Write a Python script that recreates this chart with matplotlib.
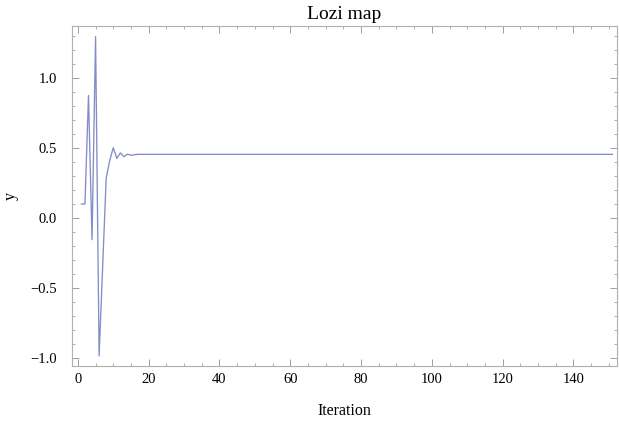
import matplotlib
matplotlib.use("Agg")
import matplotlib.pyplot as plt
from matplotlib.ticker import MultipleLocator, FuncFormatter

# Values
iters_early = [1, 2, 3, 4, 5, 6, 7, 8, 9, 10, 11, 12, 13, 14, 15, 16]
y_early = [0.10, 0.10, 0.875, -0.155, 1.295, -0.985, -0.35, 0.286, 0.41, 0.502,
           0.425, 0.465, 0.438, 0.456, 0.448, 0.452]
steady_value = 0.4545
last_iter = 151

iters = iters_early + list(range(iters_early[-1] + 1, last_iter + 1))
y = y_early + [steady_value] * (last_iter - iters_early[-1])

title = "Lozi map"
xlabel = "Iteration"
ylabel = "y"

plt.rcParams['font.family'] = ['Liberation Serif', 'DejaVu Serif']
plt.rcParams['mathtext.fontset'] = 'stix'

fig = plt.figure(figsize=(6.19, 4.26), dpi=100)
ax = fig.add_axes([71.5 / 619, 60 / 426, (617 - 71.5) / 619, 340 / 426])

ax.plot(iters, y, color='#6470bc', linewidth=0.95, alpha=0.8)

ax.set_xlim(-1.8, 152.3)
ax.set_ylim(-1.057, 1.371)

ax.xaxis.set_major_locator(MultipleLocator(20))
ax.xaxis.set_minor_locator(MultipleLocator(5))
ax.yaxis.set_major_locator(MultipleLocator(0.5))
ax.yaxis.set_minor_locator(MultipleLocator(0.1))
ax.yaxis.set_major_formatter(FuncFormatter(lambda v, p: f"{v:.1f}".replace("-", "\u2212")))

gray = '#a0a0a0'
for s in ax.spines.values():
    s.set_color('#b0b0b0')
    s.set_linewidth(0.8)
ax.tick_params(which='both', direction='in', top=True, right=True, color=gray,
               labelsize=10.5, labelcolor='black')
ax.tick_params(which='major', length=5, width=0.7)
ax.tick_params(which='minor', length=2.5, width=0.6)
ax.tick_params(axis='x', which='major', pad=5)
ax.tick_params(axis='y', which='major', pad=10.5)

ax.set_title(title, fontsize=14, pad=5)
ax.set_xlabel(xlabel, fontsize=11.5, labelpad=12)
ax.set_ylabel(ylabel, fontsize=11.5, labelpad=8)

fig.savefig("out.png", dpi=100)
